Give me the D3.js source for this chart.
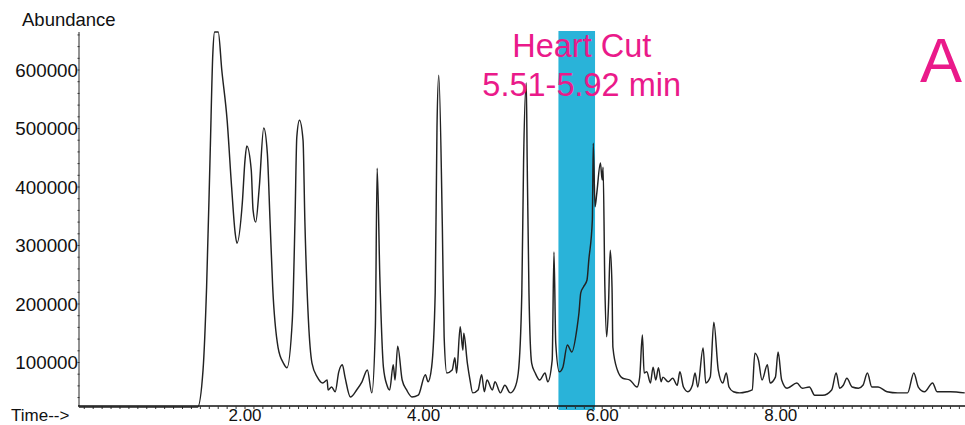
<!DOCTYPE html>
<html>
<head>
<meta charset="utf-8">
<script src="https://cdn.jsdelivr.net/npm/d3@7"></script>
<style>
  html, body { margin: 0; padding: 0; background: #fff; overflow: hidden; }
  text { font-family: "Liberation Sans", Arial, Helvetica, sans-serif; }
</style>
</head>
<body>
<svg id="chart" width="965" height="425"></svg>
<script>
// Total ion chromatogram: retention time (min) and abundance
const retentionTime = [
  0.14, 1.40, 1.47, 1.53, 1.57, 1.61, 1.64, 1.66, 1.70, 1.74, 1.80, 1.85, 1.89, 1.91,
  1.97, 2.00, 2.02, 2.07, 2.09, 2.12, 2.16, 2.21, 2.25, 2.28, 2.31, 2.37, 2.43, 2.47,
  2.53, 2.56, 2.58, 2.61, 2.65, 2.67, 2.71, 2.75, 2.81, 2.87, 2.92, 2.93, 2.97, 3.01,
  3.05, 3.09, 3.12, 3.18, 3.25, 3.31, 3.37, 3.42, 3.46, 3.48, 3.51, 3.55, 3.59, 3.62,
  3.66, 3.68, 3.71, 3.76, 3.81, 3.87, 3.94, 4.02, 4.05, 4.09, 4.13, 4.15, 4.17, 4.21,
  4.23, 4.26, 4.32, 4.35, 4.37, 4.41, 4.44, 4.45, 4.49, 4.52, 4.55, 4.61, 4.65, 4.68,
  4.71, 4.77, 4.80, 4.86, 4.91, 4.97, 5.02, 5.06, 5.10, 5.12, 5.15, 5.16, 5.18, 5.21,
  5.25, 5.30, 5.36, 5.39, 5.44, 5.46, 5.48, 5.52, 5.56, 5.61, 5.66, 5.72, 5.74, 5.76,
  5.79, 5.83, 5.85, 5.89, 5.90, 5.92, 5.94, 5.98, 6.00, 6.01, 6.03, 6.05, 6.07, 6.09,
  6.11, 6.12, 6.17, 6.23, 6.31, 6.39, 6.42, 6.45, 6.47, 6.50, 6.54, 6.57, 6.60, 6.63,
  6.66, 6.68, 6.74, 6.79, 6.84, 6.87, 6.91, 6.96, 7.01, 7.04, 7.07, 7.13, 7.16, 7.21,
  7.25, 7.30, 7.35, 7.39, 7.42, 7.47, 7.54, 7.62, 7.68, 7.71, 7.75, 7.79, 7.85, 7.88,
  7.94, 7.97, 8.01, 8.07, 8.18, 8.24, 8.32, 8.38, 8.47, 8.57, 8.62, 8.66, 8.70, 8.74,
  8.80, 8.87, 8.92, 8.97, 9.02, 9.09, 9.19, 9.31, 9.42, 9.49, 9.54, 9.61, 9.70, 9.75,
  9.90, 10.06
];
const abundance = [
  24000, 24000, 24000, 87000, 229000, 458000, 629000, 665000, 665000, 600000, 514000, 400000, 321000, 304000,
  373000, 446000, 470000, 429000, 361000, 340000, 400000, 501000, 458000, 344000, 229000, 126000, 99000, 91000,
  173000, 344000, 485000, 514000, 480000, 344000, 173000, 99000, 75000, 65000, 70000, 53000, 58000, 50000,
  84000, 96000, 75000, 41000, 53000, 67000, 87000, 48000, 161000, 432000, 246000, 92000, 61000, 53000,
  96000, 70000, 128000, 70000, 53000, 41000, 44000, 79000, 67000, 92000, 219000, 502000, 591000, 332000,
  144000, 82000, 87000, 108000, 82000, 161000, 121000, 150000, 99000, 70000, 48000, 53000, 79000, 50000,
  70000, 53000, 67000, 48000, 61000, 48000, 56000, 82000, 219000, 446000, 578000, 446000, 219000, 99000,
  82000, 70000, 82000, 67000, 104000, 289000, 133000, 84000, 92000, 130000, 118000, 161000, 185000, 219000,
  229000, 241000, 275000, 344000, 475000, 366000, 390000, 441000, 412000, 434000, 229000, 144000, 195000, 292000,
  229000, 126000, 87000, 73000, 70000, 58000, 75000, 147000, 82000, 84000, 65000, 92000, 70000, 91000,
  67000, 75000, 67000, 73000, 61000, 84000, 58000, 50000, 61000, 82000, 58000, 125000, 65000, 75000,
  169000, 87000, 65000, 82000, 58000, 50000, 48000, 50000, 53000, 116000, 104000, 70000, 96000, 65000,
  75000, 118000, 70000, 56000, 65000, 56000, 58000, 44000, 44000, 53000, 82000, 56000, 61000, 73000,
  58000, 56000, 61000, 82000, 58000, 58000, 50000, 48000, 48000, 82000, 58000, 50000, 65000, 50000,
  50000, 48000
];

// Axis ticks and the heart-cut window
const yTickValues = [100000, 200000, 300000, 400000, 500000, 600000];
const xTickValues = [2, 4, 6, 8];
const heartCut = [5.51, 5.92];
const heartCutTitle = "Heart Cut";
const heartCutLabel = "5.51-5.92 min";
const panelLetter = "A";

(function draw() {
  const svg = d3.select("#chart");
  const plotLeft = 79, plotRight = 965, plotTop = 32, plotBottom = 406;

  const x = d3.scaleLinear().domain([0.141, 10.063]).range([plotLeft, plotRight]);
  const y = d3.scaleLinear().domain([25600, 665000]).range([plotBottom, plotTop]);

  const pink = "#ea1a8a";
  const blue = "#29b3d9";

  // Heart-cut window
  svg.append("rect")
    .attr("x", x(heartCut[0]))
    .attr("y", plotTop - 1)
    .attr("width", x(heartCut[1]) - x(heartCut[0]))
    .attr("height", plotBottom + 4 - (plotTop - 1))
    .attr("fill", blue);

  // Y axis
  svg.append("line")
    .attr("x1", plotLeft).attr("x2", plotLeft)
    .attr("y1", plotTop).attr("y2", plotBottom)
    .attr("stroke", "#777").attr("stroke-width", 1.6);

  const yMinor = d3.range(40000, 665000, 20000);
  svg.append("g").selectAll("line").data(yMinor).join("line")
    .attr("x1", plotLeft - 1.5).attr("x2", plotLeft + 0.5)
    .attr("y1", d => y(d)).attr("y2", d => y(d))
    .attr("stroke", "#333").attr("stroke-width", 1);

  svg.append("g").selectAll("text").data(yTickValues).join("text")
    .attr("x", plotLeft - 1)
    .attr("y", d => y(d))
    .attr("dy", "0.36em")
    .attr("text-anchor", "end")
    .attr("font-size", 18.8)
    .attr("fill", "#111")
    .text(d => d);

  svg.append("text")
    .attr("x", 22).attr("y", 26)
    .attr("font-size", 18.5).attr("fill", "#111")
    .text("Abundance");

  // X axis
  svg.append("line")
    .attr("x1", plotLeft - 1).attr("x2", plotRight)
    .attr("y1", plotBottom).attr("y2", plotBottom)
    .attr("stroke", "#111").attr("stroke-width", 1.4);

  const xMinor = d3.range(0.2, 10.06, 0.1);
  svg.append("g").selectAll("line").data(xMinor).join("line")
    .attr("x1", d => x(d)).attr("x2", d => x(d))
    .attr("y1", plotBottom).attr("y2", plotBottom + 3)
    .attr("stroke", "#333").attr("stroke-width", 1);

  svg.append("g").selectAll("text").data(xTickValues).join("text")
    .attr("x", d => x(d))
    .attr("y", 421)
    .attr("text-anchor", "middle")
    .attr("font-size", 17)
    .attr("fill", "#111")
    .text(d => d3.format(".2f")(d));

  svg.append("text")
    .attr("x", 11).attr("y", 421)
    .attr("font-size", 17).attr("fill", "#111")
    .text("Time-->");

  // Chromatogram trace
  const points = retentionTime.map((t, i) => [t, abundance[i]]);
  const line = d3.line()
    .x(d => x(d[0]))
    .y(d => y(d[1]))
    .curve(d3.curveMonotoneX);

  svg.append("path")
    .datum(points)
    .attr("d", line)
    .attr("fill", "none")
    .attr("stroke", "#222")
    .attr("stroke-width", 1.45)
    .attr("stroke-linejoin", "round");

  // Annotations, centred over the heart-cut window
  const cx = (x(heartCut[0]) + x(heartCut[1])) / 2 + 5;
  svg.append("text")
    .attr("x", cx).attr("y", 57)
    .attr("text-anchor", "middle")
    .attr("font-size", 32.5).attr("fill", pink)
    .text(heartCutTitle);
  svg.append("text")
    .attr("x", cx).attr("y", 96)
    .attr("text-anchor", "middle")
    .attr("font-size", 32.5).attr("fill", pink)
    .text(heartCutLabel);

  svg.append("text")
    .attr("x", 962).attr("y", 82)
    .attr("text-anchor", "end")
    .attr("font-size", 63).attr("fill", pink)
    .text(panelLetter);
})();
</script>
</body>
</html>
